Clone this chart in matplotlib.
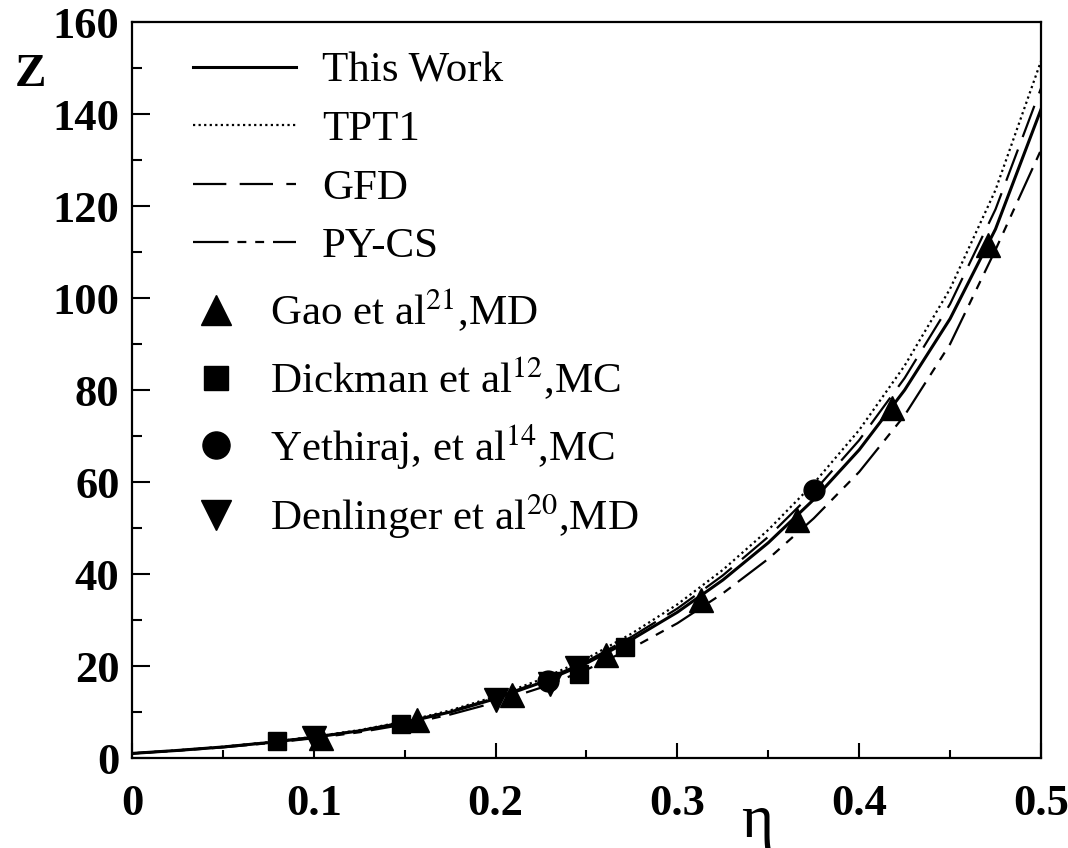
import numpy as np
import matplotlib
matplotlib.use('Agg')
import matplotlib.pyplot as plt
from matplotlib.ticker import MultipleLocator

plt.rcParams['font.family'] = ['Liberation Serif', 'DejaVu Serif']
plt.rcParams['mathtext.fontset'] = 'stix'

# curves (eta grid, Z values)
eta = [0.0, 0.025, 0.05, 0.075, 0.1, 0.125, 0.15, 0.175, 0.2, 0.225, 0.25,
       0.275, 0.3, 0.325, 0.35, 0.375, 0.4, 0.425, 0.45, 0.475, 0.5]
z_this_work = [1.0, 1.65, 2.4, 3.35, 4.5, 5.9, 7.7, 10.0, 12.9, 16.4, 20.6,
               25.8, 31.7, 38.7, 46.8, 56.2, 67.0, 80.0, 95.5, 115.0, 141.0]
z_tpt1 = [1.0, 1.68, 2.45, 3.43, 4.62, 6.07, 7.95, 10.35, 13.4, 17.1, 21.6,
          27.1, 33.4, 40.9, 49.6, 59.7, 71.3, 85.3, 102.0, 123.5, 151.5]
z_gfd = [1.0, 1.66, 2.42, 3.39, 4.56, 5.98, 7.82, 10.15, 13.1, 16.7, 21.0,
         26.4, 32.5, 39.7, 48.1, 57.9, 69.1, 82.6, 98.7, 119.3, 145.6]
z_pycs = [1.0, 1.6, 2.32, 3.22, 4.3, 5.6, 7.3, 9.45, 12.1, 15.3, 19.2,
          23.9, 29.3, 35.8, 43.3, 52.1, 62.2, 74.5, 90.0, 110.5, 132.2]

# simulation data
gao_eta = [0.104, 0.157, 0.209, 0.261, 0.313, 0.366, 0.418, 0.471]
gao_z = [4.4, 8.2, 13.7, 22.4, 34.3, 51.7, 76.0, 111.5]
dick_eta = [0.080, 0.148, 0.246, 0.271]
dick_z = [3.7, 7.4, 18.3, 24.1]
yeth_eta = [0.229, 0.375]
yeth_z = [16.8, 58.3]
denl_eta = [0.100, 0.200, 0.230, 0.245]
denl_z = [4.4, 12.7, 16.0, 19.5]

fig = plt.figure(figsize=(10.68, 8.48), dpi=100)
ax = fig.add_axes([0.1236, 0.1061, 0.8511, 0.8679])

l1, = ax.plot(eta, z_this_work, color='black', lw=2.2, label='This Work')
l2, = ax.plot(eta, z_tpt1, color='black', lw=1.6, linestyle=(0, (1, 1.5)), label='TPT1')
l3, = ax.plot(eta, z_gfd, color='black', lw=1.6, linestyle=(0, (15, 6)), label='GFD')
l4, = ax.plot(eta, z_pycs, color='black', lw=1.6,
              linestyle=(0, (16, 4, 4, 4, 4, 4)), label='PY-CS')

m1, = ax.plot(gao_eta, gao_z, '^', color='black', ms=17, label='Gao et al$^{21}$,MD')
m2, = ax.plot(dick_eta, dick_z, 's', color='black', ms=13, label='Dickman et al$^{12}$,MC')
m3, = ax.plot(yeth_eta, yeth_z, 'o', color='black', ms=15, label='Yethiraj, et al$^{14}$,MC')
m4, = ax.plot(denl_eta, denl_z, 'v', color='black', ms=17, label='Denlinger et al$^{20}$,MD')

ax.set_xlim(0, 0.5)
ax.set_ylim(0, 160)
ax.xaxis.set_minor_locator(MultipleLocator(0.05))
ax.yaxis.set_major_locator(MultipleLocator(20))
ax.yaxis.set_minor_locator(MultipleLocator(10))
ax.set_xticks([0, 0.1, 0.2, 0.3, 0.4, 0.5])
ax.set_xticklabels(['0', '0.1', '0.2', '0.3', '0.4', '0.5'])
ax.tick_params(axis='both', which='both', direction='in', top=False, right=False,
               width=1.5, labelsize=32)
ax.tick_params(axis='y', which='major', length=13, pad=9)
ax.tick_params(axis='y', which='minor', length=7)
ax.tick_params(axis='x', which='major', length=11, pad=19)
ax.tick_params(axis='x', which='minor', length=6)
for lab in ax.get_xticklabels() + ax.get_yticklabels():
    lab.set_fontweight('bold')
for s in ax.spines.values():
    s.set_linewidth(1.6)

leg1 = ax.legend(handles=[l1, l2, l3, l4], loc='upper left',
                 bbox_to_anchor=(0.067, 0.960), frameon=False, fontsize=31,
                 handlelength=2.4, handletextpad=0.6, labelspacing=0.45,
                 borderpad=0, borderaxespad=0)
ax.add_artist(leg1)
ax.legend(handles=[m1, m2, m3, m4], loc='upper left',
          bbox_to_anchor=(0.069, 0.640), frameon=False, fontsize=31,
          handlelength=1.0, handletextpad=0.75, labelspacing=0.48,
          markerscale=1.3, borderpad=0, borderaxespad=0)

ax.text(-0.112, 0.928, 'Z', transform=ax.transAxes, fontsize=34,
        fontweight='bold', ha='center', va='center')
ax.text(0.6876, -0.087, 'η', transform=ax.transAxes, fontsize=44,
        ha='center', va='center')

fig.savefig('out.png', dpi=100)
